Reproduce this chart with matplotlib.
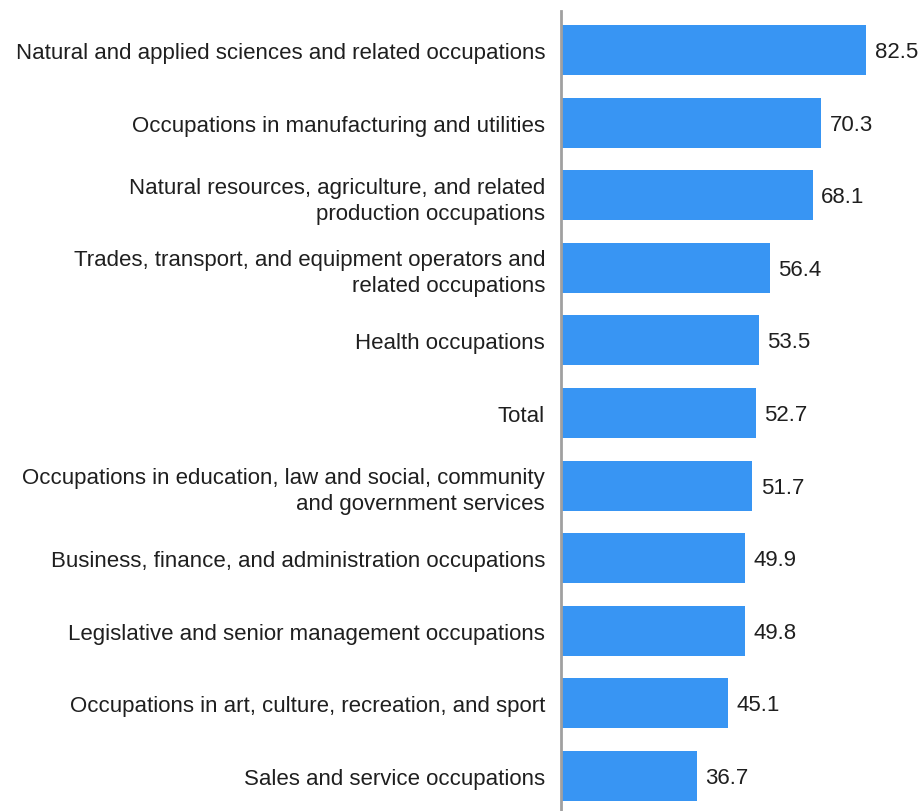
import matplotlib.pyplot as plt

categories = [
    "Natural and applied sciences and related occupations",
    "Occupations in manufacturing and utilities",
    "Natural resources, agriculture, and related\nproduction occupations",
    "Trades, transport, and equipment operators and\nrelated occupations",
    "Health occupations",
    "Total",
    "Occupations in education, law and social, community\nand government services",
    "Business, finance, and administration occupations",
    "Legislative and senior management occupations",
    "Occupations in art, culture, recreation, and sport",
    "Sales and service occupations",
]
values = [82.5, 70.3, 68.1, 56.4, 53.5, 52.7, 51.7, 49.9, 49.8, 45.1, 36.7]

plt.rcParams['font.family'] = ['Liberation Sans', 'DejaVu Sans']

fig = plt.figure(figsize=(9.2, 8.12), dpi=100)
ax = fig.add_axes([561 / 920, 0, 1 - 561 / 920, 800 / 812])

pos = list(range(len(values)))
ax.barh(pos, values, height=0.69, color="#3895f3")
for y, v in zip(pos, values):
    ax.text(v + 2.3, y + 0.02, f"{v}", va="center", ha="left", fontsize=16, color="#1f1f1f")

ax.set_yticks(pos)
ax.set_yticklabels(categories, fontsize=16, color="#1f1f1f", linespacing=1.32)
ax.tick_params(axis="y", length=0, pad=11.5)
ax.set_xticks([])
ax.set_xlim(0, 97.1)
ax.set_ylim(10.482, -0.537)
for s in ["top", "right", "bottom"]:
    ax.spines[s].set_visible(False)
ax.spines["left"].set_color("#a0a0a0")
ax.spines["left"].set_linewidth(2)

fig.savefig("out.png", dpi=100)
